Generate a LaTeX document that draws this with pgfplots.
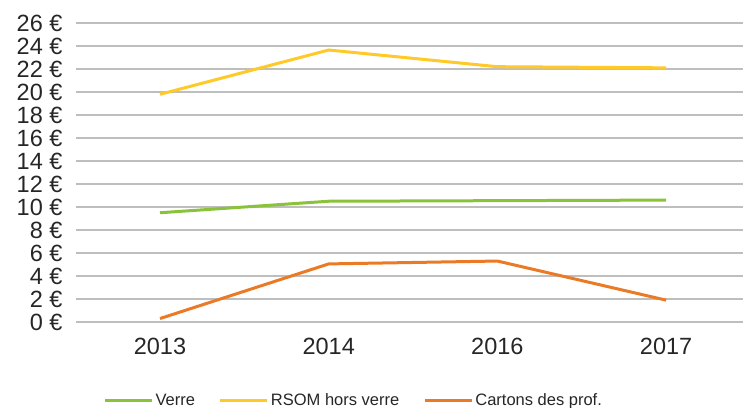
\documentclass[border=0pt]{standalone}
\usepackage{fontspec}
\setmainfont{Liberation Sans}
\usepackage{pgfplots}
\pgfplotsset{compat=1.18}
\definecolor{cgreen}{RGB}{138,194,58}
\definecolor{cyellow}{RGB}{255,202,40}
\definecolor{corange}{RGB}{234,122,38}
\definecolor{cgrid}{RGB}{190,190,190}
\begin{document}
\begin{tikzpicture}
\begin{axis}[
  scale only axis, width=667pt, height=299pt,
  xmin=-0.498, xmax=3.456, ymin=0, ymax=26,
  axis line style={draw=none},
  major tick length=0pt,
  xtick={0,1,2,3}, xticklabels={2013,2014,2016,2017},
  ytick={0,2,...,26},
  ymajorgrids, grid style={cgrid, line width=1.5pt},
  /pgf/number format/assume math mode=true,
  yticklabel={\pgfmathprintnumber{\tick}~€},
  tick label style={font=\fontsize{23.5}{24}\selectfont, text=black!85},
  yticklabel style={xshift=-10pt},
  xticklabel style={yshift=-13pt},
  clip=false,
  legend columns=3,
  legend style={draw=none, fill=none, at={(axis description cs:0.041,-0.262)}, anchor=west,
    font=\fontsize{16.5}{17}\selectfont, text=black!85, inner sep=0pt,
    /tikz/every even column/.append style={column sep=22pt}},
  legend image code/.code={\draw[#1, line width=3pt] (0pt,0pt) -- (47pt,0pt);},
  every axis plot/.append style={line width=3pt},
]
\path (rel axis cs:0,0) coordinate (sw) (rel axis cs:1,1) coordinate (ne);
\addplot[cgreen] coordinates {(0,9.5) (1,10.5) (2,10.55) (3,10.6)};
\addlegendentry{Verre}
\addplot[cyellow] coordinates {(0,19.8) (1,23.65) (2,22.2) (3,22.1)};
\addlegendentry{RSOM hors verre}
\addplot[corange] coordinates {(0,0.3) (1,5.05) (2,5.3) (3,1.9)};
\addlegendentry{Cartons des prof.}
\end{axis}
\pgfresetboundingbox
\path[use as bounding box] ([shift={(-76pt,-86pt)}]sw) rectangle ([shift={(0pt,23pt)}]ne);
\end{tikzpicture}
\end{document}
